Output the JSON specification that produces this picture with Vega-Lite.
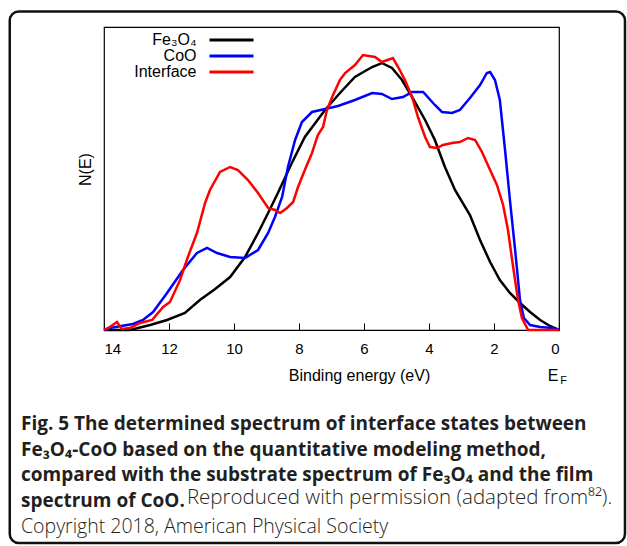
{
  "$schema": "https://vega.github.io/schema/vega-lite/v6.json",
  "width": 455,
  "height": 303,
  "autosize": {"type": "none"},
  "padding": {"left": 104, "top": 27, "right": 68, "bottom": 216},
  "background": "white",
  "config": {"view": {"stroke": "#000", "strokeWidth": 1.2}, "font": "Liberation Sans"},
  "title": {
    "text": ["Fig. 5 The determined spectrum of interface states between", "Fe₃O₄-CoO based on the quantitative modeling method,", "compared with the substrate spectrum of Fe₃O₄ and the film", "spectrum of CoO."],
    "subtitle": "Copyright 2018, American Physical Society",
    "orient": "bottom",
    "anchor": "start",
    "frame": "group",
    "dx": -83,
    "offset": -129,
    "baseline": "top",
    "font": "Open Sans",
    "fontSize": 19,
    "fontWeight": "bold",
    "color": "#231f20",
    "lineHeight": 25.5,
    "subtitleFont": "Open Sans",
    "subtitleFontSize": 19.5,
    "subtitleFontWeight": 300,
    "subtitleColor": "#231f20",
    "subtitleLineHeight": 25.5,
    "subtitlePadding": 7
  },
  "datasets": {
    "spec": [
      {"s": "Fe₃O₄", "e": 14, "n": 0}, {"s": "Fe₃O₄", "e": 13.2, "n": 0}, {"s": "Fe₃O₄", "e": 12.58, "n": 5}, {"s": "Fe₃O₄", "e": 12.06, "n": 10}, {"s": "Fe₃O₄", "e": 11.51, "n": 17}, {"s": "Fe₃O₄", "e": 11.05, "n": 30}, {"s": "Fe₃O₄", "e": 10.58, "n": 41}, {"s": "Fe₃O₄", "e": 10.12, "n": 53}, {"s": "Fe₃O₄", "e": 9.66, "n": 73}, {"s": "Fe₃O₄", "e": 9.26, "n": 97}, {"s": "Fe₃O₄", "e": 8.95, "n": 117}, {"s": "Fe₃O₄", "e": 8.65, "n": 137}, {"s": "Fe₃O₄", "e": 8.22, "n": 167}, {"s": "Fe₃O₄", "e": 7.82, "n": 193}, {"s": "Fe₃O₄", "e": 7.2, "n": 220}, {"s": "Fe₃O₄", "e": 6.74, "n": 237}, {"s": "Fe₃O₄", "e": 6.28, "n": 253}, {"s": "Fe₃O₄", "e": 5.75, "n": 263}, {"s": "Fe₃O₄", "e": 5.45, "n": 267}, {"s": "Fe₃O₄", "e": 5.14, "n": 262}, {"s": "Fe₃O₄", "e": 4.83, "n": 250}, {"s": "Fe₃O₄", "e": 4.52, "n": 233}, {"s": "Fe₃O₄", "e": 4.12, "n": 210}, {"s": "Fe₃O₄", "e": 3.82, "n": 190}, {"s": "Fe₃O₄", "e": 3.51, "n": 163}, {"s": "Fe₃O₄", "e": 3.2, "n": 140}, {"s": "Fe₃O₄", "e": 2.74, "n": 115}, {"s": "Fe₃O₄", "e": 2.43, "n": 90}, {"s": "Fe₃O₄", "e": 2.12, "n": 68}, {"s": "Fe₃O₄", "e": 1.82, "n": 50}, {"s": "Fe₃O₄", "e": 1.51, "n": 37}, {"s": "Fe₃O₄", "e": 1.2, "n": 27}, {"s": "Fe₃O₄", "e": 0.89, "n": 18}, {"s": "Fe₃O₄", "e": 0.58, "n": 10}, {"s": "Fe₃O₄", "e": 0.28, "n": 4}, {"s": "Fe₃O₄", "e": 0, "n": 0},
      {"s": "CoO", "e": 14, "n": 0}, {"s": "CoO", "e": 13.82, "n": 2}, {"s": "CoO", "e": 13.11, "n": 6}, {"s": "CoO", "e": 12.8, "n": 10}, {"s": "CoO", "e": 12.49, "n": 18}, {"s": "CoO", "e": 12.06, "n": 37}, {"s": "CoO", "e": 11.57, "n": 60}, {"s": "CoO", "e": 11.14, "n": 77}, {"s": "CoO", "e": 10.83, "n": 82}, {"s": "CoO", "e": 10.52, "n": 77}, {"s": "CoO", "e": 10.12, "n": 73}, {"s": "CoO", "e": 9.66, "n": 72}, {"s": "CoO", "e": 9.26, "n": 80}, {"s": "CoO", "e": 8.95, "n": 97}, {"s": "CoO", "e": 8.74, "n": 113}, {"s": "CoO", "e": 8.52, "n": 133}, {"s": "CoO", "e": 8.34, "n": 163}, {"s": "CoO", "e": 8.12, "n": 190}, {"s": "CoO", "e": 7.91, "n": 208}, {"s": "CoO", "e": 7.6, "n": 218}, {"s": "CoO", "e": 7.2, "n": 221}, {"s": "CoO", "e": 6.8, "n": 224}, {"s": "CoO", "e": 6.28, "n": 230}, {"s": "CoO", "e": 5.75, "n": 237}, {"s": "CoO", "e": 5.45, "n": 236}, {"s": "CoO", "e": 5.14, "n": 231}, {"s": "CoO", "e": 4.8, "n": 233}, {"s": "CoO", "e": 4.52, "n": 238}, {"s": "CoO", "e": 4.18, "n": 238}, {"s": "CoO", "e": 3.82, "n": 225}, {"s": "CoO", "e": 3.6, "n": 218}, {"s": "CoO", "e": 3.29, "n": 217}, {"s": "CoO", "e": 3.05, "n": 220}, {"s": "CoO", "e": 2.74, "n": 232}, {"s": "CoO", "e": 2.43, "n": 245}, {"s": "CoO", "e": 2.22, "n": 257}, {"s": "CoO", "e": 2.12, "n": 258}, {"s": "CoO", "e": 1.97, "n": 250}, {"s": "CoO", "e": 1.82, "n": 230}, {"s": "CoO", "e": 1.66, "n": 180}, {"s": "CoO", "e": 1.51, "n": 130}, {"s": "CoO", "e": 1.35, "n": 80}, {"s": "CoO", "e": 1.2, "n": 30}, {"s": "CoO", "e": 1.08, "n": 12}, {"s": "CoO", "e": 0.89, "n": 5}, {"s": "CoO", "e": 0.58, "n": 3}, {"s": "CoO", "e": 0.22, "n": 2}, {"s": "CoO", "e": 0, "n": 0},
      {"s": "Interface", "e": 14, "n": 0}, {"s": "Interface", "e": 13.82, "n": 3}, {"s": "Interface", "e": 13.6, "n": 8}, {"s": "Interface", "e": 13.45, "n": 1}, {"s": "Interface", "e": 13.2, "n": 2}, {"s": "Interface", "e": 12.89, "n": 7}, {"s": "Interface", "e": 12.52, "n": 10}, {"s": "Interface", "e": 12.18, "n": 23}, {"s": "Interface", "e": 11.97, "n": 28}, {"s": "Interface", "e": 11.66, "n": 50}, {"s": "Interface", "e": 11.42, "n": 73}, {"s": "Interface", "e": 11.14, "n": 97}, {"s": "Interface", "e": 10.89, "n": 127}, {"s": "Interface", "e": 10.74, "n": 140}, {"s": "Interface", "e": 10.43, "n": 158}, {"s": "Interface", "e": 10.12, "n": 163}, {"s": "Interface", "e": 9.88, "n": 160}, {"s": "Interface", "e": 9.57, "n": 150}, {"s": "Interface", "e": 9.26, "n": 137}, {"s": "Interface", "e": 8.95, "n": 122}, {"s": "Interface", "e": 8.74, "n": 120}, {"s": "Interface", "e": 8.58, "n": 117}, {"s": "Interface", "e": 8.37, "n": 122}, {"s": "Interface", "e": 8.18, "n": 128}, {"s": "Interface", "e": 8.03, "n": 143}, {"s": "Interface", "e": 7.82, "n": 160}, {"s": "Interface", "e": 7.6, "n": 177}, {"s": "Interface", "e": 7.42, "n": 195}, {"s": "Interface", "e": 7.26, "n": 203}, {"s": "Interface", "e": 7.14, "n": 220}, {"s": "Interface", "e": 6.98, "n": 233}, {"s": "Interface", "e": 6.74, "n": 250}, {"s": "Interface", "e": 6.58, "n": 257}, {"s": "Interface", "e": 6.28, "n": 265}, {"s": "Interface", "e": 6.03, "n": 275}, {"s": "Interface", "e": 5.66, "n": 273}, {"s": "Interface", "e": 5.45, "n": 268}, {"s": "Interface", "e": 5.11, "n": 272}, {"s": "Interface", "e": 4.95, "n": 263}, {"s": "Interface", "e": 4.74, "n": 250}, {"s": "Interface", "e": 4.52, "n": 233}, {"s": "Interface", "e": 4.34, "n": 213}, {"s": "Interface", "e": 4.12, "n": 193}, {"s": "Interface", "e": 3.97, "n": 183}, {"s": "Interface", "e": 3.75, "n": 182}, {"s": "Interface", "e": 3.57, "n": 185}, {"s": "Interface", "e": 3.29, "n": 187}, {"s": "Interface", "e": 3.05, "n": 188}, {"s": "Interface", "e": 2.8, "n": 192}, {"s": "Interface", "e": 2.58, "n": 190}, {"s": "Interface", "e": 2.37, "n": 178}, {"s": "Interface", "e": 2.12, "n": 160}, {"s": "Interface", "e": 1.91, "n": 145}, {"s": "Interface", "e": 1.72, "n": 125}, {"s": "Interface", "e": 1.57, "n": 100}, {"s": "Interface", "e": 1.42, "n": 65}, {"s": "Interface", "e": 1.26, "n": 30}, {"s": "Interface", "e": 1.14, "n": 12}, {"s": "Interface", "e": 0.95, "n": 0}, {"s": "Interface", "e": 0, "n": 0}
    ],
    "one": [{"k": 1}]
  },
  "layer": [
    {
      "data": {"name": "one"},
      "mark": {"type": "rect", "fill": "transparent", "stroke": "#111111", "strokeWidth": 2.5, "cornerRadius": 9, "clip": false},
      "encoding": {
        "x": {"datum": 16.9, "type": "quantitative"},
        "x2": {"datum": -2.03},
        "y": {"datum": 318.5, "type": "quantitative"},
        "y2": {"datum": -213}
      }
    },
    {
      "data": {"name": "spec"},
      "mark": {"type": "line", "strokeWidth": 2.5, "clip": false},
      "encoding": {
        "x": {
          "field": "e", "type": "quantitative",
          "scale": {"domain": [0, 14], "reverse": true, "nice": false, "zero": false},
          "axis": {
            "values": [0, 2, 4, 6, 8, 10, 12, 14], "format": "d", "grid": false, "domain": false,
            "tickSize": -7, "tickColor": "#000", "tickWidth": 1,
            "labelFont": "Liberation Sans", "labelFontSize": 15, "labelColor": "#000", "labelPadding": 18,
            "title": "Binding energy (eV)", "titleFont": "Liberation Sans", "titleFontSize": 16, "titleFontWeight": "normal", "titleColor": "#000",
            "titleX": 255, "titleAlign": "center", "titlePadding": 11
          }
        },
        "y": {
          "field": "n", "type": "quantitative",
          "scale": {"domain": [0, 303], "nice": false, "zero": false},
          "axis": {
            "labels": false, "ticks": false, "domain": false, "grid": false,
            "title": "N(E)", "titleFont": "Liberation Sans", "titleFontSize": 16, "titleFontWeight": "normal", "titleColor": "#000", "titlePadding": 11, "titleY": 142
          }
        },
        "color": {
          "field": "s", "type": "nominal",
          "scale": {"domain": ["Fe₃O₄", "CoO", "Interface"], "range": ["#000000", "#0000ff", "#ff0000"]},
          "legend": {
            "title": null, "orient": "none", "legendX": 103, "legendY": 5,
            "symbolType": "M-4,0H4", "symbolSize": 121, "symbolStrokeWidth": 3, "symbolOffset": 16.5,
            "labelAlign": "right", "labelOffset": -43, "labelFont": "Liberation Sans", "labelFontSize": 16, "labelColor": "#000",
            "rowPadding": 0
          }
        }
      }
    },
    {
      "data": {"name": "one"},
      "mark": {"type": "text", "text": "Reproduced with permission (adapted from⁸²).", "font": "Open Sans", "fontSize": 20.5, "fontWeight": 300, "align": "left", "baseline": "middle", "color": "#231f20"},
      "encoding": {"x": {"datum": 11.45, "type": "quantitative"}, "y": {"datum": -168, "type": "quantitative"}}
    },
    {
      "data": {"name": "one"},
      "mark": {"type": "text", "text": "E", "font": "Liberation Sans", "fontSize": 16, "align": "center", "baseline": "middle", "color": "#000"},
      "encoding": {"x": {"datum": 0.18, "type": "quantitative"}, "y": {"datum": -46, "type": "quantitative"}}
    },
    {
      "data": {"name": "one"},
      "mark": {"type": "text", "text": "F", "font": "Liberation Sans", "fontSize": 11, "align": "center", "baseline": "middle", "color": "#000"},
      "encoding": {"x": {"datum": -0.14, "type": "quantitative"}, "y": {"datum": -51, "type": "quantitative"}}
    }
  ]
}
